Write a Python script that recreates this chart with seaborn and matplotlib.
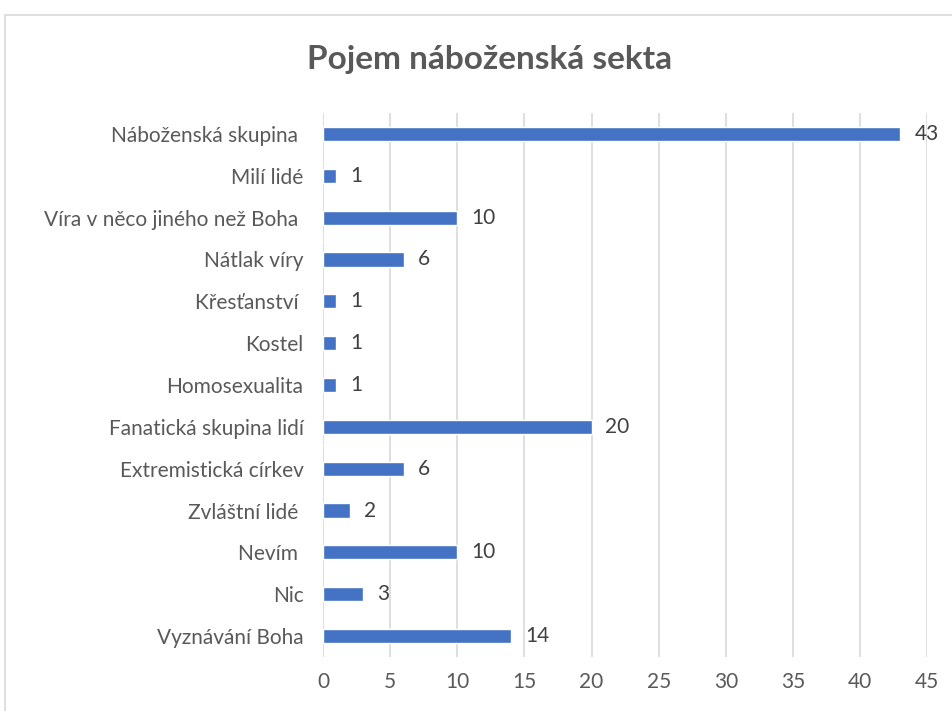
import matplotlib
matplotlib.use("Agg")
import matplotlib.pyplot as plt
import seaborn as sns
import pandas as pd
from matplotlib.lines import Line2D

# Data (top to bottom)
categories = [
    "Náboženská skupina ",
    "Milí lidé",
    "Víra v něco jiného než Boha ",
    "Nátlak víry",
    "Křesťanství ",
    "Kostel",
    "Homosexualita",
    "Fanatická skupina lidí",
    "Extremistická církev",
    "Zvláštní lidé ",
    "Nevím ",
    "Nic",
    "Vyznávání Boha",
]
values = [43, 1, 10, 6, 1, 1, 1, 20, 6, 2, 10, 3, 14]
x_ticks = list(range(0, 50, 5))

df = pd.DataFrame({"kategorie": categories, "pocet": values})

sns.set_style("white")
plt.rcParams["font.family"] = ["Lato", "DejaVu Sans"]

fig = plt.figure(figsize=(9.53, 7.11), dpi=100)
ax = fig.add_axes([0.339, 0.076, 0.634, 0.765])

sns.barplot(data=df, x="pocet", y="kategorie", orient="h",
            color="#4472C4", saturation=1, width=0.34, ax=ax)

ax.set_xlim(0, 45)
ax.set_xticks(x_ticks)
ax.grid(axis="x", color="#D9D9D9", linewidth=1.2)
ax.set_axisbelow(True)
for s in ax.spines.values():
    s.set_visible(False)
ax.set_xlabel("")
ax.set_ylabel("")
ax.tick_params(axis="both", length=0, labelsize=15, labelcolor="#595959")
ax.tick_params(axis="x", pad=11)
ax.tick_params(axis="y", pad=14)

for cont in ax.containers:
    ax.bar_label(cont, padding=10, fontsize=15, color="#404040")

fig.text(0.514, 0.917, "Pojem náboženská sekta", ha="center", va="center",
         fontsize=24, fontweight="bold", color="#595959")

# chart frame (left and top edges visible)
fig.add_artist(Line2D([5/953, 5/953], [0, 1 - 15/711], transform=fig.transFigure,
                      color="#D9D9D9", linewidth=1.2))
fig.add_artist(Line2D([5/953, 1], [1 - 15/711, 1 - 15/711], transform=fig.transFigure,
                      color="#D9D9D9", linewidth=1.2))

fig.savefig("out.png", dpi=100)
